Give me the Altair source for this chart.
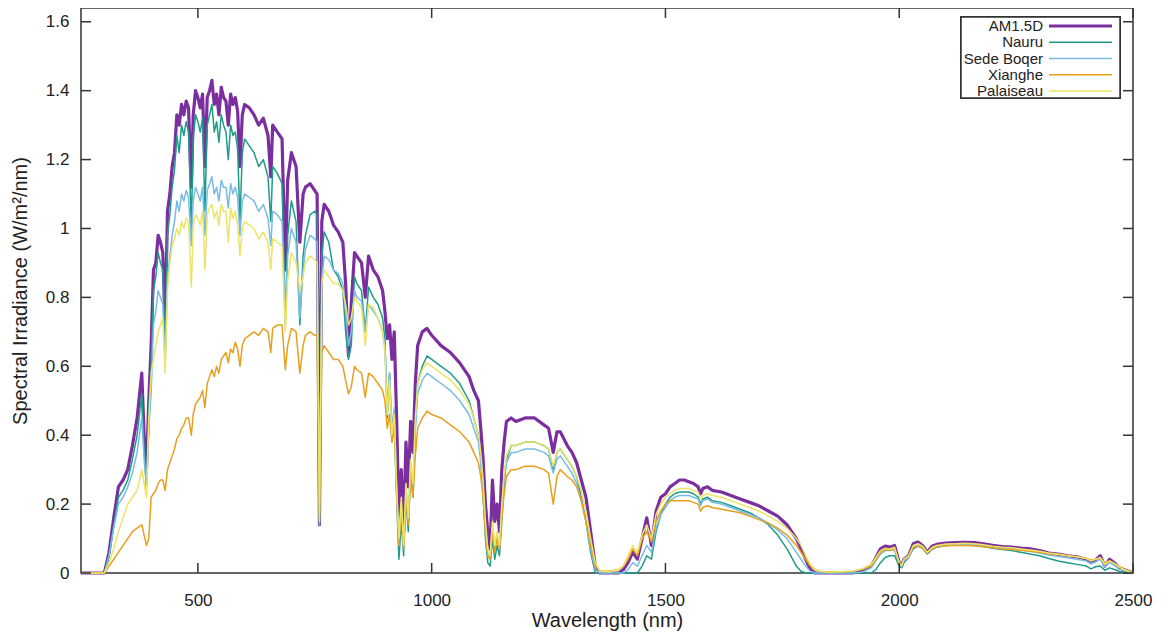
import altair as alt
import pandas as pd

names = ["AM1.5D", "Nauru", "Sede Boqer", "Xianghe", "Palaiseau"]
colors = ["#7b2f9f", "#1f9c89", "#78bce6", "#e6a01c", "#ece466"]
widths = [3.2, 1.5, 1.5, 1.5, 1.5]

x_ticks = [500, 1000, 1500, 2000, 2500]
y_ticks = [0, 0.2, 0.4, 0.6, 0.8, 1, 1.2, 1.4, 1.6]

wl = [
    250, 295, 300, 310, 320, 330, 340, 350, 360, 370,
    380, 385, 390, 395, 400, 405, 410, 415, 420, 425,
    430, 435, 440, 445, 450, 455, 460, 465, 470, 475,
    480, 486, 490, 495, 500, 505, 510, 515, 520, 525,
    530, 535, 540, 545, 550, 555, 560, 565, 570, 575,
    580, 585, 590, 595, 600, 610, 620, 630, 640, 650,
    656, 660, 670, 680, 687, 692, 700, 710, 718, 725,
    730, 740, 750, 755, 760, 765, 770, 780, 790, 800,
    810, 816, 822, 828, 835, 840, 850, 858, 865, 875,
    885, 895, 900, 905, 910, 915, 920, 925, 930, 935,
    940, 945, 950, 955, 960, 965, 970, 980, 990, 1000,
    1020, 1040, 1060, 1080, 1090, 1100, 1105, 1110, 1115, 1120,
    1125, 1130, 1135, 1140, 1145, 1150, 1155, 1160, 1170, 1180,
    1200, 1220, 1240, 1250, 1260, 1268, 1275, 1290, 1300, 1310,
    1320, 1330, 1340, 1350, 1360, 1380, 1400, 1410, 1420, 1430,
    1440, 1450, 1460, 1470, 1480, 1490, 1500, 1510, 1520, 1530,
    1540, 1550, 1560, 1570, 1575, 1580, 1590, 1600, 1620, 1640,
    1660, 1680, 1700, 1720, 1740, 1760, 1780, 1790, 1800, 1810,
    1820, 1830, 1850, 1900, 1920, 1940, 1950, 1960, 1970, 1980,
    1990, 2000, 2005, 2010, 2020, 2030, 2040, 2050, 2060, 2070,
    2080, 2100, 2120, 2140, 2160, 2180, 2200, 2220, 2240, 2260,
    2280, 2300, 2320, 2340, 2360, 2380, 2400, 2410, 2420, 2430,
    2440, 2450, 2460, 2470, 2480, 2490, 2500,
]

am15d = [
    0, 0, 0.0, 0.06, 0.16, 0.25, 0.27, 0.30, 0.37, 0.45,
    0.58, 0.40, 0.30, 0.50, 0.66, 0.88, 0.90, 0.98, 0.96, 0.93,
    0.72, 1.05, 1.10, 1.18, 1.22, 1.33, 1.30, 1.36, 1.33, 1.37,
    1.35, 1.12, 1.33, 1.40, 1.38, 1.35, 1.39, 1.18, 1.38, 1.40,
    1.43, 1.36, 1.39, 1.33, 1.41, 1.38, 1.37, 1.30, 1.39, 1.36,
    1.38, 1.34, 1.18, 1.33, 1.36, 1.35, 1.33, 1.30, 1.32, 1.27,
    1.15, 1.30, 1.28, 1.26, 0.88, 1.14, 1.22, 1.18, 0.96, 1.10,
    1.12, 1.13, 1.11, 1.10, 0.14, 1.02, 1.07, 1.05, 1.01, 0.99,
    0.96, 0.84, 0.63, 0.78, 0.93, 0.92, 0.90, 0.80, 0.92, 0.88,
    0.86, 0.82, 0.76, 0.68, 0.72, 0.62, 0.70, 0.45, 0.16, 0.30,
    0.12, 0.38, 0.25, 0.44, 0.35, 0.55, 0.66, 0.70, 0.71, 0.69,
    0.66, 0.64, 0.61, 0.57, 0.53, 0.50, 0.42, 0.33, 0.20, 0.12,
    0.07, 0.27, 0.15, 0.20, 0.12, 0.30, 0.38, 0.44, 0.45, 0.44,
    0.45, 0.45, 0.43, 0.42, 0.35, 0.41, 0.41, 0.37, 0.35, 0.32,
    0.27, 0.22, 0.12, 0.02, 0, 0, 0.0, 0.01, 0.03, 0.06,
    0.04, 0.10, 0.16, 0.08, 0.18, 0.22, 0.23, 0.25, 0.26, 0.27,
    0.27, 0.265, 0.26, 0.25, 0.23, 0.245, 0.25, 0.24, 0.235, 0.225,
    0.215, 0.205, 0.195, 0.18, 0.165, 0.14, 0.10, 0.07, 0.04, 0.01,
    0.0, 0, 0, 0, 0.005, 0.02, 0.045, 0.07, 0.078, 0.075,
    0.08, 0.03, 0.02, 0.04, 0.05, 0.085, 0.09, 0.08, 0.06, 0.078,
    0.083, 0.087, 0.088, 0.089, 0.088, 0.085, 0.08, 0.077, 0.075, 0.072,
    0.07, 0.065, 0.058, 0.055, 0.05, 0.047, 0.04, 0.03, 0.038, 0.05,
    0.02, 0.04, 0.03, 0.015, 0.01, 0.005, 0.0,
]

nauru = [
    0, 0, 0, 0.05, 0.14, 0.22, 0.24, 0.27, 0.33, 0.40,
    0.52, 0.36, 0.25, 0.48, 0.60, 0.82, 0.86, 0.93, 0.90, 0.88,
    0.62, 0.98, 1.04, 1.12, 1.17, 1.27, 1.22, 1.30, 1.27, 1.31,
    1.28, 1.00, 1.26, 1.33, 1.31, 1.28, 1.32, 1.05, 1.30, 1.33,
    1.36, 1.28, 1.31, 1.25, 1.33, 1.30, 1.28, 1.20, 1.30, 1.27,
    1.28, 1.23, 1.02, 1.22, 1.26, 1.24, 1.22, 1.18, 1.20, 1.15,
    1.02, 1.18, 1.16, 1.13, 0.72, 0.98, 1.08, 1.02, 0.72, 0.92,
    0.98, 1.04, 1.05, 1.04, 0.14, 0.92, 0.99, 0.96, 0.88, 0.86,
    0.82, 0.70, 0.62, 0.66, 0.86, 0.84, 0.82, 0.70, 0.83, 0.80,
    0.78, 0.74, 0.68, 0.45, 0.58, 0.38, 0.45, 0.22, 0.04, 0.15,
    0.05, 0.22, 0.12, 0.30, 0.22, 0.42, 0.55, 0.60, 0.63, 0.62,
    0.60, 0.58, 0.55, 0.50, 0.45, 0.40, 0.34, 0.22, 0.10, 0.03,
    0.02, 0.10, 0.04, 0.08, 0.05, 0.15, 0.26, 0.33, 0.37, 0.37,
    0.38, 0.38, 0.37, 0.36, 0.30, 0.35, 0.36, 0.33, 0.31, 0.28,
    0.22, 0.15, 0.06, 0.0, 0, 0, 0, 0, 0, 0,
    0, 0.02, 0.05, 0.04, 0.12, 0.17, 0.20, 0.22, 0.23, 0.235,
    0.235, 0.235, 0.23, 0.22, 0.20, 0.215, 0.22, 0.21, 0.205, 0.195,
    0.185, 0.175, 0.16, 0.14, 0.11, 0.07, 0.02, 0.005, 0, 0,
    0, 0, 0, 0, 0, 0.0, 0.01, 0.03, 0.045, 0.05,
    0.05, 0.02, 0.015, 0.03, 0.045, 0.07, 0.078, 0.072, 0.055, 0.068,
    0.075, 0.08, 0.082, 0.082, 0.08, 0.077, 0.072, 0.068, 0.065, 0.06,
    0.055, 0.05, 0.042, 0.035, 0.03, 0.025, 0.02, 0.012, 0.018, 0.02,
    0.008, 0.015, 0.01, 0.005, 0.003, 0, 0,
]

sede_boqer = [
    0, 0, 0, 0.05, 0.13, 0.20, 0.22, 0.25, 0.29, 0.35,
    0.45, 0.33, 0.25, 0.42, 0.52, 0.72, 0.76, 0.82, 0.80, 0.78,
    0.60, 0.86, 0.92, 0.98, 1.02, 1.08, 1.05, 1.10, 1.08, 1.11,
    1.09, 0.95, 1.08, 1.12, 1.10, 1.08, 1.12, 0.98, 1.11, 1.13,
    1.15, 1.10, 1.12, 1.08, 1.14, 1.12, 1.12, 1.06, 1.13, 1.10,
    1.12, 1.09, 0.98, 1.08, 1.10, 1.09, 1.08, 1.05, 1.07, 1.03,
    0.95, 1.05, 1.04, 1.02, 0.75, 0.92, 1.00, 0.96, 0.74, 0.88,
    0.94, 0.98, 0.97, 0.96, 0.14, 0.85, 0.92, 0.91, 0.88, 0.87,
    0.84, 0.76, 0.66, 0.70, 0.82, 0.80, 0.79, 0.70, 0.78, 0.76,
    0.74, 0.70, 0.66, 0.48, 0.58, 0.42, 0.48, 0.25, 0.08, 0.20,
    0.07, 0.25, 0.15, 0.32, 0.24, 0.42, 0.52, 0.56, 0.58, 0.57,
    0.55, 0.53, 0.50, 0.46, 0.42, 0.38, 0.32, 0.24, 0.12, 0.05,
    0.04, 0.14, 0.07, 0.11, 0.07, 0.18, 0.27, 0.32, 0.35, 0.35,
    0.36, 0.36, 0.35, 0.34, 0.29, 0.33, 0.34, 0.31, 0.29, 0.26,
    0.21, 0.15, 0.07, 0.01, 0, 0, 0, 0, 0.01, 0.03,
    0.02, 0.05, 0.08, 0.06, 0.13, 0.17, 0.19, 0.21, 0.22, 0.225,
    0.225, 0.225, 0.22, 0.215, 0.195, 0.21, 0.215, 0.205, 0.20, 0.19,
    0.18, 0.17, 0.16, 0.145, 0.125, 0.10, 0.06, 0.04, 0.02, 0.005,
    0, 0, 0, 0, 0.003, 0.015, 0.035, 0.055, 0.065, 0.065,
    0.068, 0.025, 0.018, 0.035, 0.045, 0.075, 0.08, 0.075, 0.058, 0.07,
    0.078, 0.082, 0.083, 0.083, 0.082, 0.079, 0.075, 0.072, 0.07, 0.067,
    0.063, 0.058, 0.052, 0.048, 0.044, 0.04, 0.035, 0.027, 0.032, 0.04,
    0.018, 0.03, 0.022, 0.012, 0.008, 0.004, 0,
]

xianghe = [
    0, 0, 0, 0.02, 0.04, 0.06, 0.08, 0.10, 0.12, 0.13,
    0.14, 0.11, 0.08, 0.10, 0.22, 0.23, 0.24, 0.26, 0.27, 0.27,
    0.24, 0.30, 0.32, 0.34, 0.36, 0.39, 0.40, 0.42, 0.43, 0.45,
    0.45, 0.40, 0.46, 0.49, 0.50, 0.51, 0.53, 0.48, 0.55, 0.57,
    0.59, 0.57, 0.60, 0.58, 0.62, 0.63, 0.64, 0.61, 0.65, 0.64,
    0.67, 0.65, 0.60, 0.66, 0.68, 0.69, 0.70, 0.69, 0.71, 0.70,
    0.64, 0.71, 0.72, 0.72, 0.59, 0.66, 0.71, 0.70, 0.58, 0.66,
    0.69, 0.70, 0.69, 0.69, 0.16, 0.64, 0.66, 0.64, 0.62, 0.62,
    0.60, 0.56, 0.52, 0.54, 0.60, 0.59, 0.58, 0.51, 0.58, 0.57,
    0.55, 0.53, 0.50, 0.42, 0.46, 0.38, 0.42, 0.24, 0.08, 0.20,
    0.07, 0.22, 0.14, 0.28, 0.22, 0.34, 0.42, 0.45, 0.47, 0.46,
    0.45, 0.43, 0.41, 0.38, 0.35, 0.32, 0.28, 0.22, 0.12, 0.05,
    0.04, 0.12, 0.06, 0.10, 0.07, 0.16, 0.23, 0.28, 0.30, 0.30,
    0.31, 0.31, 0.30, 0.29, 0.20, 0.28, 0.30, 0.28, 0.27, 0.25,
    0.21, 0.15, 0.08, 0.02, 0.005, 0.005, 0.01, 0.02, 0.04, 0.07,
    0.05, 0.10, 0.12, 0.09, 0.15, 0.18, 0.20, 0.21, 0.21, 0.21,
    0.21, 0.21, 0.205, 0.20, 0.18, 0.19, 0.195, 0.19, 0.185, 0.18,
    0.175, 0.165, 0.155, 0.145, 0.13, 0.11, 0.08, 0.06, 0.04, 0.02,
    0.01, 0.005, 0.002, 0.005, 0.01, 0.02, 0.04, 0.06, 0.068, 0.066,
    0.07, 0.03, 0.022, 0.04, 0.048, 0.075, 0.078, 0.072, 0.058, 0.07,
    0.076, 0.079, 0.08, 0.08, 0.079, 0.076, 0.073, 0.07, 0.068, 0.066,
    0.063, 0.06, 0.056, 0.053, 0.05, 0.047, 0.043, 0.038, 0.04, 0.042,
    0.03, 0.035, 0.028, 0.02, 0.012, 0.006, 0,
]

palaiseau = [
    0, 0, 0, 0.03, 0.07, 0.12, 0.16, 0.20, 0.22, 0.24,
    0.30, 0.26, 0.22, 0.45, 0.58, 0.62, 0.66, 0.70, 0.72, 0.74,
    0.58, 0.82, 0.90, 0.95, 0.97, 1.00, 0.98, 1.02, 1.00, 1.03,
    1.02, 0.83, 1.01, 1.04, 1.03, 1.01, 1.05, 0.88, 1.04, 1.06,
    1.07, 1.03, 1.05, 1.01, 1.07, 1.05, 1.05, 0.96, 1.06, 1.03,
    1.05, 1.01, 0.92, 1.00, 1.02, 1.01, 1.00, 0.97, 0.99, 0.96,
    0.88, 0.97, 0.96, 0.95, 0.70, 0.85, 0.93, 0.90, 0.82, 0.86,
    0.90, 0.92, 0.91, 0.90, 0.15, 0.84, 0.88, 0.86, 0.84, 0.84,
    0.82, 0.78, 0.72, 0.74, 0.80, 0.79, 0.77, 0.66, 0.78, 0.77,
    0.74, 0.70, 0.64, 0.46, 0.56, 0.40, 0.46, 0.25, 0.10, 0.22,
    0.08, 0.26, 0.16, 0.33, 0.26, 0.45, 0.55, 0.59, 0.61, 0.60,
    0.58, 0.56, 0.53, 0.49, 0.45, 0.40, 0.35, 0.27, 0.15, 0.07,
    0.05, 0.15, 0.08, 0.12, 0.08, 0.20, 0.29, 0.34, 0.37, 0.37,
    0.38, 0.38, 0.37, 0.36, 0.31, 0.35, 0.36, 0.33, 0.31, 0.28,
    0.24, 0.18, 0.10, 0.03, 0.005, 0.003, 0.01, 0.02, 0.05, 0.08,
    0.06, 0.11, 0.14, 0.10, 0.17, 0.20, 0.22, 0.23, 0.24, 0.245,
    0.245, 0.245, 0.24, 0.235, 0.215, 0.225, 0.23, 0.225, 0.22, 0.21,
    0.20, 0.19, 0.18, 0.165, 0.15, 0.13, 0.10, 0.08, 0.05, 0.025,
    0.01, 0.005, 0.002, 0.005, 0.012, 0.025, 0.045, 0.065, 0.072, 0.07,
    0.075, 0.03, 0.022, 0.04, 0.05, 0.08, 0.085, 0.078, 0.06, 0.074,
    0.08, 0.084, 0.085, 0.086, 0.085, 0.082, 0.078, 0.075, 0.073, 0.07,
    0.067, 0.063, 0.058, 0.055, 0.05, 0.047, 0.042, 0.035, 0.04, 0.045,
    0.025, 0.035, 0.028, 0.018, 0.01, 0.005, 0,
]

series = [am15d, nauru, sede_boqer, xianghe, palaiseau]
for s in series:
    assert len(s) == len(wl), (len(s), len(wl))

rows = []
for name, vals in zip(names, series):
    for w, v in zip(wl, vals):
        rows.append({"wl": w, "irr": v, "series": name})
df = pd.DataFrame(rows)
legend_df = pd.DataFrame({"series": names})

W, H = 1052, 565
FONT = "Liberation Sans"
INK = "#333333"
TXT = "#222222"

color_enc = alt.Color("series:N", scale=alt.Scale(domain=names, range=colors), legend=None)
width_enc = alt.StrokeWidth("series:N",
                            scale=alt.Scale(type="ordinal", domain=names, range=widths),
                            legend=None)

lines = alt.Chart(df).mark_line(strokeJoin="round").encode(
    x=alt.X("wl:Q", scale=alt.Scale(domain=[250, 2500], nice=False, zero=False),
            axis=alt.Axis(values=x_ticks, format="d", title="Wavelength (nm)",
                          labelFlush=False, labelPadding=19, titlePadding=2)),
    y=alt.Y("irr:Q", scale=alt.Scale(domain=[0, 1.64], nice=False),
            axis=alt.Axis(values=y_ticks, format="~g",
                          title="Spectral Irradiance (W/m²/nm)",
                          labelFlush=False, labelPadding=12, titlePadding=15)),
    color=color_enc,
    strokeWidth=width_enc,
)

xt_df = pd.DataFrame({"wl": x_ticks})
yt_df = pd.DataFrame({"irr": y_ticks})
rule = dict(color=INK, strokeWidth=1.5)

bottom_ticks = alt.Chart(xt_df).mark_rule(**rule).encode(
    x="wl:Q", y=alt.value(H), y2=alt.value(H - 10))
top_ticks = alt.Chart(xt_df).mark_rule(**rule).encode(
    x="wl:Q", y=alt.value(0), y2=alt.value(10))
left_ticks = alt.Chart(yt_df).mark_rule(**rule).encode(
    y="irr:Q", x=alt.value(0), x2=alt.value(10))
right_ticks = alt.Chart(yt_df).mark_rule(**rule).encode(
    y="irr:Q", x=alt.value(W), x2=alt.value(W - 10))

plot = alt.layer(lines, bottom_ticks, top_ticks, left_ticks, right_ticks)

# legend box (inside the plot, top-right), labels left of the line samples
leg_y = alt.Y("series:N", scale=alt.Scale(type="point", domain=names, range=[18, 83], padding=0),
              axis=None)
leg_box = alt.Chart(legend_df).mark_rect(fill="white", stroke=INK, strokeWidth=1.5).encode(
    x=alt.value(880), x2=alt.value(1039), y=alt.value(9), y2=alt.value(90))
leg_lines = alt.Chart(legend_df).mark_rule().encode(
    x=alt.value(968), x2=alt.value(1031), y=leg_y, color=color_enc, strokeWidth=width_enc)
leg_text = alt.Chart(legend_df).mark_text(
    align="right", baseline="middle", font=FONT, fontSize=15, color=TXT).encode(
    x=alt.value(962), y=leg_y, text="series:N")

chart = alt.layer(plot, leg_box, leg_lines, leg_text).resolve_scale(
    y="independent"
).properties(
    width=W, height=H,
    autosize=alt.AutoSizeParams(type="none"),
    padding={"left": 73, "top": 0, "right": 25, "bottom": 58},
    background="white",
).configure_view(
    stroke=INK, strokeWidth=1.5,
).configure_axis(
    domain=False, ticks=False, grid=False,
    labelFont=FONT, labelFontSize=17, labelColor=TXT,
    titleFont=FONT, titleFontSize=20, titleFontWeight="normal", titleColor=TXT,
)

chart.save("out.html", embed_options={"renderer": "svg", "actions": False})
